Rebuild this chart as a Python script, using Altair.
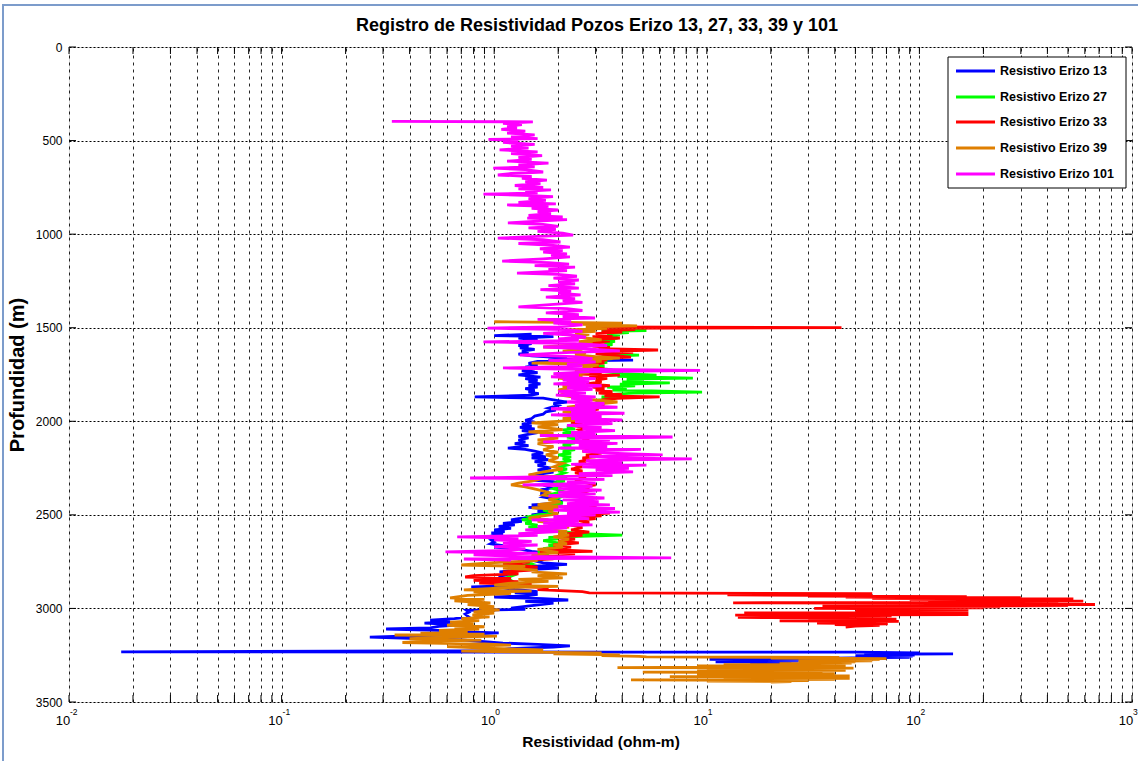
import altair as alt
import pandas as pd

# Resistivity logs: (depth in m, resistivity in ohm-m), top to bottom
erizo13 = [
    (1535, 1.5), (1542, 1.0), (1548, 1.9), (1555, 1.3), (1565, 1.6), (1575, 1.35), (1585, 1.5),
    (1595, 1.3), (1603, 1.45), (1608, 1.32), (1616, 1.55), (1625, 1.35), (1633, 1.45), (1641, 1.3),
    (1650, 1.5), (1662, 2.2), (1668, 1.8), (1673, 4.5), (1680, 1.6), (1690, 1.45), (1700, 1.6),
    (1710, 1.4), (1720, 1.55), (1730, 1.35), (1740, 1.6), (1752, 1.3), (1764, 1.65), (1772, 1.4),
    (1782, 1.6), (1790, 1.45), (1800, 1.65), (1810, 1.45), (1817, 1.6), (1826, 1.4), (1835, 1.55),
    (1844, 1.45), (1852, 1.62), (1860, 1.5), (1870, 0.81), (1876, 1.7), (1885, 1.9), (1897, 2.2),
    (1905, 1.9), (1915, 2.0), (1930, 1.8), (1940, 1.95), (1950, 1.75), (1962, 1.7), (1972, 1.55),
    (1985, 1.5), (1995, 1.4), (2005, 1.55), (2015, 1.35), (2025, 1.5), (2032, 1.32), (2040, 1.55),
    (2050, 1.35), (2060, 1.6), (2073, 1.4), (2080, 1.3), (2089, 1.45), (2100, 1.3), (2110, 1.4),
    (2120, 1.25), (2130, 1.45), (2143, 1.16), (2150, 1.4), (2160, 1.55), (2170, 1.7), (2180, 1.5),
    (2190, 1.75), (2196, 1.5), (2205, 1.8), (2215, 1.55), (2225, 1.75), (2235, 1.6), (2250, 1.85),
    (2260, 1.6), (2271, 1.9), (2280, 1.7), (2290, 1.55), (2300, 1.8), (2314, 1.5), (2322, 1.9),
    (2330, 2.0), (2340, 1.7), (2356, 1.85), (2366, 1.65), (2376, 1.8), (2386, 1.65), (2394, 1.8),
    (2405, 1.7), (2415, 1.9), (2431, 2.1), (2440, 1.85), (2447, 1.5), (2452, 2.1), (2460, 1.45),
    (2470, 1.9), (2480, 1.6), (2490, 1.8), (2500, 1.5), (2510, 1.65), (2520, 1.3), (2527, 1.2),
    (2535, 1.35), (2545, 1.1), (2554, 1.25), (2562, 1.05), (2572, 1.2), (2581, 1.0), (2590, 1.12),
    (2597, 0.97), (2605, 1.1), (2615, 0.95), (2625, 1.05), (2635, 0.97), (2645, 1.0), (2655, 0.96),
    (2665, 1.1), (2672, 1.0), (2682, 1.3), (2695, 1.5), (2705, 1.8), (2715, 1.6), (2730, 1.9),
    (2742, 1.5), (2757, 1.7), (2765, 2.2), (2775, 1.5), (2784, 2.0), (2795, 1.3), (2805, 1.06),
    (2815, 1.2), (2825, 1.05), (2837, 1.15), (2845, 1.02), (2855, 1.1), (2865, 1.0), (2877, 1.3),
    (2885, 0.78), (2890, 1.1), (2898, 1.25), (2910, 1.6), (2917, 1.25), (2925, 1.6), (2932, 1.45),
    (2939, 1.0), (2948, 1.7), (2955, 2.23), (2962, 1.4), (2972, 1.9), (2985, 1.5), (2998, 1.2),
    (3005, 1.4), (3010, 0.74), (3020, 0.76), (3030, 0.73), (3046, 0.76), (3055, 0.65), (3062, 0.5),
    (3070, 0.62), (3078, 0.47), (3088, 0.69), (3096, 0.55), (3104, 0.5), (3110, 0.31), (3118, 0.6),
    (3126, 0.72), (3131, 1.05), (3140, 0.7), (3147, 0.4), (3153, 0.26), (3160, 0.4), (3168, 0.7),
    (3178, 0.9), (3185, 1.1), (3192, 1.6), (3200, 2.27), (3206, 1.9), (3215, 1.2), (3225, 1.0),
    (3232, 0.0176), (3233, 3.4), (3234, 50), (3237, 100), (3240, 60), (3243, 144), (3246, 55),
    (3249, 95), (3252, 50), (3255, 93), (3258, 52), (3261, 90), (3264, 48), (3268, 28),
    (3272, 10.3), (3276, 28), (3279, 12), (3282, 27), (3285, 11), (3288, 25), (3291, 16),
]

erizo27 = [
    (1510, 3.5), (1515, 5.2), (1520, 3.2), (1526, 4.3), (1533, 3.4), (1540, 3.9), (1548, 3.2),
    (1556, 3.8), (1565, 3.1), (1573, 3.7), (1582, 3.3), (1590, 3.6), (1600, 3.1), (1610, 3.5),
    (1620, 3.2), (1630, 3.6), (1640, 3.3), (1646, 4.8), (1655, 3.2), (1665, 3.6), (1675, 3.0),
    (1685, 3.4), (1695, 2.9), (1705, 3.3), (1715, 3.0), (1725, 3.6), (1735, 3.3), (1745, 4.0),
    (1753, 5.8), (1760, 3.8), (1769, 8.6), (1775, 4.2), (1782, 5.0), (1790, 4.0), (1795, 6.7),
    (1802, 3.9), (1810, 4.6), (1817, 3.4), (1825, 4.2), (1833, 3.6), (1838, 5.5), (1844, 9.5),
    (1850, 4.5), (1858, 3.4), (1865, 4.0), (1870, 3.2), (1878, 3.6), (1888, 3.0), (1898, 3.3),
    (1908, 2.8), (1918, 3.1), (1928, 2.7), (1938, 2.9), (1948, 2.6), (1958, 2.8), (1968, 2.5),
    (1982, 2.7), (1990, 2.4), (2000, 2.6), (2010, 2.3), (2020, 2.5), (2030, 2.2), (2040, 2.4),
    (2046, 2.1), (2055, 2.3), (2065, 2.1), (2075, 2.4), (2085, 2.2), (2095, 2.5), (2105, 2.2),
    (2115, 2.4), (2125, 2.1), (2135, 2.3), (2143, 2.05), (2152, 2.4), (2162, 2.1), (2172, 2.3),
    (2180, 2.0), (2190, 2.3), (2200, 2.1), (2210, 2.3), (2220, 2.05), (2234, 2.2), (2245, 2.0),
    (2255, 2.2), (2265, 2.0), (2275, 2.15), (2287, 2.0), (2297, 2.2), (2310, 1.95), (2320, 2.15),
    (2330, 1.9), (2345, 2.1), (2360, 1.9), (2375, 2.1), (2390, 1.85), (2405, 2.05), (2420, 1.9),
    (2436, 2.1), (2450, 1.8), (2462, 2.0), (2475, 1.7), (2490, 1.9), (2500, 1.6), (2510, 1.45),
    (2517, 1.5), (2525, 1.35), (2535, 1.5), (2545, 1.4), (2555, 1.6), (2565, 1.45), (2575, 1.7),
    (2585, 1.9), (2595, 2.3), (2600, 2.5), (2608, 4.0), (2614, 2.8), (2620, 1.8), (2628, 2.0),
    (2638, 1.7), (2650, 2.0), (2660, 1.8), (2670, 2.0), (2680, 1.7), (2690, 1.9), (2700, 1.6),
    (2712, 1.8), (2725, 1.5), (2738, 1.7), (2750, 1.4), (2762, 1.5), (2775, 1.3), (2790, 1.4),
    (2805, 1.2), (2820, 1.25), (2835, 1.15), (2850, 1.2), (2865, 1.1), (2875, 1.08),
]

erizo33 = [
    (1495, 2.7), (1500, 43), (1504, 2.9), (1510, 4.6), (1516, 3.2), (1524, 4.0), (1532, 3.0),
    (1540, 3.6), (1548, 2.9), (1555, 3.9), (1563, 3.1), (1572, 3.5), (1580, 2.8), (1590, 3.3),
    (1598, 2.9), (1605, 3.5), (1612, 3.1), (1619, 5.9), (1625, 3.6), (1632, 4.5), (1640, 3.0),
    (1648, 3.6), (1657, 4.4), (1665, 2.8), (1672, 3.4), (1680, 2.9), (1689, 3.3), (1696, 2.6),
    (1705, 3.1), (1712, 2.9), (1720, 3.3), (1730, 2.8), (1740, 3.2), (1748, 2.5), (1753, 3.9),
    (1760, 2.8), (1770, 3.4), (1780, 3.0), (1790, 3.2), (1800, 2.7), (1810, 3.5), (1818, 2.9),
    (1825, 3.3), (1833, 3.0), (1842, 3.6), (1850, 3.1), (1858, 4.0), (1865, 3.3), (1870, 6.0),
    (1878, 3.8), (1886, 3.2), (1897, 3.6), (1905, 2.9), (1915, 3.3), (1925, 2.8), (1935, 3.1),
    (1945, 2.7), (1955, 3.0), (1965, 2.5), (1975, 2.8), (1985, 2.4), (1995, 2.7), (2005, 2.3),
    (2015, 2.6), (2025, 2.4), (2035, 2.7), (2045, 2.5), (2055, 2.6), (2063, 2.4), (2073, 2.9),
    (2082, 2.5), (2092, 2.8), (2100, 2.6), (2110, 2.9), (2120, 2.6), (2130, 3.0), (2140, 2.6),
    (2153, 2.9), (2160, 2.6), (2170, 3.2), (2180, 2.7), (2190, 3.0), (2196, 2.6), (2205, 2.8),
    (2215, 2.5), (2225, 2.7), (2234, 2.4), (2244, 2.6), (2255, 2.3), (2265, 2.6), (2276, 2.4),
    (2287, 2.8), (2295, 2.5), (2305, 2.7), (2315, 2.4), (2325, 2.6), (2340, 3.0), (2350, 2.6),
    (2360, 2.8), (2372, 2.5), (2385, 2.7), (2398, 2.4), (2410, 2.8), (2422, 2.5), (2435, 2.9),
    (2447, 2.6), (2460, 3.0), (2475, 2.7), (2490, 3.5), (2498, 2.6), (2505, 3.2), (2512, 2.3),
    (2520, 3.0), (2530, 2.5), (2542, 2.8), (2555, 2.3), (2568, 2.6), (2581, 2.3), (2592, 2.8),
    (2600, 2.2), (2610, 2.6), (2618, 2.0), (2630, 2.4), (2640, 2.0), (2650, 2.5), (2661, 1.9),
    (2672, 2.3), (2685, 1.8), (2695, 2.9), (2700, 1.64), (2708, 2.4), (2714, 2.0), (2725, 1.6),
    (2735, 1.9), (2745, 1.3), (2752, 1.47), (2760, 1.1), (2770, 1.35), (2779, 1.6), (2785, 1.2),
    (2795, 1.5), (2805, 1.1), (2815, 1.3), (2825, 0.8), (2832, 0.73), (2840, 1.2), (2850, 0.8),
    (2857, 1.3), (2864, 0.85), (2872, 1.5), (2880, 1.2), (2890, 1.8), (2900, 1.6), (2910, 2.6),
    (2917, 2.8), (2921, 60), (2925, 35), (2928, 12.5), (2931, 55), (2934, 30), (2937, 167),
    (2940, 45), (2943, 300), (2946, 60), (2949, 530), (2952, 90), (2955, 400), (2958, 150),
    (2961, 590), (2964, 110), (2967, 450), (2970, 13.3), (2973, 120), (2976, 260), (2979, 670),
    (2982, 90), (2985, 500), (2988, 35), (2991, 240), (2994, 70), (2997, 200), (3000, 32),
    (3003, 160), (3006, 60), (3009, 170), (3012, 50), (3015, 160), (3018, 57), (3021, 170),
    (3024, 15), (3027, 120), (3030, 40), (3033, 170), (3036, 13.6), (3039, 74), (3042, 25),
    (3045, 70), (3048, 14), (3051, 60), (3054, 30), (3057, 78), (3060, 40), (3063, 74),
    (3066, 22), (3069, 80), (3072, 45), (3075, 70), (3078, 33), (3082, 71), (3086, 40),
    (3090, 65), (3094, 50), (3100, 45),
]

erizo39 = [
    (1468, 1.0), (1472, 2.1), (1476, 4.0), (1482, 2.6), (1490, 4.7), (1496, 2.7), (1504, 3.4),
    (1512, 2.2), (1520, 3.0), (1528, 2.4), (1535, 2.8), (1545, 2.3), (1555, 2.7), (1565, 3.2),
    (1575, 2.5), (1585, 2.9), (1595, 2.2), (1603, 1.7), (1608, 2.3), (1616, 2.6), (1625, 2.1),
    (1635, 2.7), (1645, 2.4), (1655, 3.0), (1662, 3.9), (1670, 2.6), (1680, 3.2), (1689, 1.5),
    (1695, 2.5), (1700, 3.1), (1710, 2.6), (1720, 2.9), (1730, 2.4), (1740, 2.8), (1750, 2.3),
    (1760, 2.6), (1769, 2.0), (1778, 2.4), (1788, 2.2), (1800, 2.5), (1812, 2.1), (1822, 2.3),
    (1832, 2.0), (1845, 2.2), (1860, 2.05), (1872, 2.4), (1885, 2.9), (1897, 3.8), (1905, 3.2),
    (1915, 2.6), (1925, 2.2), (1940, 2.7), (1950, 2.1), (1960, 2.5), (1977, 2.7), (1985, 2.1),
    (1995, 2.4), (2009, 1.5), (2018, 2.0), (2030, 1.6), (2045, 2.1), (2057, 1.45), (2065, 1.9),
    (2075, 1.7), (2090, 2.0), (2100, 1.6), (2110, 1.9), (2120, 1.6), (2135, 1.9), (2153, 1.7),
    (2165, 2.0), (2180, 1.75), (2195, 2.0), (2210, 1.8), (2225, 2.1), (2244, 1.9), (2255, 2.1),
    (2270, 1.7), (2287, 1.45), (2295, 2.0), (2305, 1.7), (2320, 1.5), (2330, 1.3), (2340, 1.2),
    (2350, 1.4), (2365, 1.6), (2380, 1.8), (2394, 1.7), (2405, 2.0), (2420, 1.8), (2431, 2.05),
    (2445, 1.6), (2455, 2.1), (2463, 1.5), (2470, 2.0), (2480, 1.8), (2495, 2.0), (2505, 1.7),
    (2517, 1.45), (2525, 1.8), (2535, 1.6), (2545, 2.0), (2555, 1.8), (2565, 2.25), (2575, 1.9),
    (2590, 2.2), (2600, 2.0), (2608, 2.25), (2618, 1.9), (2630, 2.25), (2645, 2.0), (2655, 2.2),
    (2661, 1.9), (2672, 2.1), (2685, 1.6), (2700, 2.0), (2714, 1.5), (2725, 1.8), (2735, 1.4),
    (2745, 1.6), (2755, 1.0), (2768, 0.7), (2775, 1.4), (2785, 1.1), (2795, 1.6), (2805, 1.5),
    (2815, 2.2), (2825, 1.6), (2837, 2.1), (2845, 1.3), (2855, 1.8), (2865, 1.2), (2875, 1.0),
    (2882, 2.0), (2890, 1.1), (2901, 0.72), (2908, 1.5), (2912, 0.8), (2920, 1.2), (2930, 0.75),
    (2944, 0.62), (2952, 0.9), (2960, 0.65), (2971, 0.96), (2980, 0.75), (2990, 1.0), (3000, 0.85),
    (3008, 1.06), (3018, 0.8), (3025, 1.0), (3035, 0.79), (3045, 0.95), (3055, 0.7), (3065, 0.85),
    (3073, 0.62), (3082, 0.8), (3090, 0.6), (3098, 0.9), (3104, 0.65), (3110, 0.85), (3118, 0.55),
    (3125, 0.75), (3132, 0.45), (3138, 0.9), (3142, 0.34), (3148, 1.03), (3155, 0.6), (3162, 0.4),
    (3169, 0.87), (3176, 0.5), (3182, 0.37), (3190, 0.9), (3196, 1.2), (3204, 0.6), (3212, 0.9),
    (3222, 1.7), (3228, 0.7), (3234, 1.4), (3238, 3.2), (3243, 1.9), (3248, 3.9), (3252, 3.2),
    (3256, 4.8), (3259, 5.2), (3262, 42), (3265, 20), (3268, 70), (3271, 27), (3274, 65),
    (3277, 30), (3280, 60), (3283, 27), (3286, 50), (3289, 30), (3292, 48), (3295, 22),
    (3298, 45), (3301, 12), (3304, 45), (3307, 9), (3310, 40), (3313, 18), (3316, 3.8),
    (3319, 49), (3322, 10), (3325, 40), (3328, 14), (3331, 45), (3334, 9), (3337, 35),
    (3340, 5.0), (3343, 27), (3346, 12), (3349, 40), (3352, 9), (3355, 31), (3358, 15),
    (3361, 47), (3364, 6.7), (3367, 45), (3370, 12), (3373, 47), (3376, 15), (3379, 40),
    (3382, 4.4), (3385, 30), (3388, 10), (3391, 25), (3393, 20),
]

erizo101 = [
    (397, 0.33), (400, 1.52), (408, 1.1), (415, 1.35), (424, 1.15), (432, 1.28), (440, 1.08),
    (450, 1.4), (460, 1.15), (470, 1.55), (480, 1.2), (490, 1.6), (494, 0.94), (500, 1.3),
    (510, 1.1), (520, 1.55), (530, 1.2), (540, 1.45), (550, 1.06), (560, 1.6), (570, 1.2),
    (580, 1.68), (590, 1.3), (600, 1.5), (610, 1.15), (620, 1.8), (630, 1.3), (640, 1.55),
    (647, 0.99), (655, 1.4), (668, 1.7), (676, 1.2), (684, 1.04), (692, 1.5), (702, 1.35),
    (711, 1.77), (720, 1.4), (730, 1.65), (740, 1.25), (750, 1.7), (758, 1.3), (764, 1.85),
    (772, 1.4), (780, 1.6), (786, 0.89), (794, 1.5), (800, 1.89), (810, 1.45), (820, 1.75),
    (830, 1.3), (838, 1.95), (844, 1.15), (852, 1.8), (862, 1.5), (871, 2.0), (880, 1.6),
    (890, 1.85), (900, 1.45), (908, 2.1), (914, 1.43), (922, 2.2), (930, 1.6), (940, 1.16),
    (948, 1.7), (958, 2.0), (967, 1.45), (975, 1.95), (985, 1.6), (995, 2.1), (1005, 2.35),
    (1012, 1.6), (1021, 1.04), (1030, 1.7), (1042, 2.05), (1050, 1.3), (1060, 1.9), (1069, 2.27),
    (1078, 1.64), (1088, 2.1), (1096, 1.7), (1105, 2.2), (1114, 1.85), (1122, 2.27), (1132, 1.7),
    (1144, 1.09), (1152, 1.8), (1160, 2.25), (1168, 1.55), (1176, 2.4), (1185, 1.8), (1195, 2.2),
    (1208, 1.28), (1215, 2.0), (1225, 2.45), (1235, 1.9), (1245, 2.5), (1255, 2.0), (1265, 2.4),
    (1275, 1.8), (1288, 2.5), (1296, 1.65), (1305, 2.3), (1315, 2.0), (1325, 2.55), (1336, 1.75),
    (1345, 2.4), (1355, 2.1), (1365, 2.6), (1375, 1.9), (1389, 1.3), (1398, 2.2), (1408, 2.6),
    (1421, 1.75), (1430, 2.5), (1440, 2.1), (1448, 2.98), (1455, 1.6), (1465, 2.3), (1475, 1.9),
    (1485, 2.6), (1495, 2.0), (1502, 0.93), (1510, 2.2), (1520, 2.6), (1530, 1.7), (1539, 2.3),
    (1550, 2.7), (1560, 2.0), (1568, 2.5), (1576, 0.89), (1585, 2.4), (1595, 3.4), (1603, 1.7),
    (1612, 2.6), (1624, 3.9), (1632, 2.3), (1646, 1.32), (1655, 2.4), (1665, 2.9), (1675, 1.8),
    (1683, 3.0), (1695, 2.2), (1705, 2.6), (1715, 1.1), (1722, 2.4), (1728, 9.3), (1736, 2.7),
    (1745, 1.9), (1753, 2.5), (1762, 1.85), (1772, 3.0), (1780, 2.1), (1790, 2.8), (1800, 1.9),
    (1810, 3.2), (1820, 2.2), (1830, 2.9), (1840, 2.0), (1850, 2.7), (1860, 1.95), (1870, 3.0),
    (1878, 2.3), (1887, 2.9), (1897, 2.2), (1905, 3.3), (1915, 2.4), (1925, 3.8), (1933, 1.85),
    (1942, 3.0), (1950, 2.3), (1957, 4.1), (1966, 1.85), (1975, 3.2), (1985, 2.3), (1993, 4.0),
    (2002, 2.4), (2012, 3.6), (2022, 2.2), (2032, 3.2), (2040, 2.6), (2050, 3.7), (2060, 2.3),
    (2068, 3.0), (2076, 1.64), (2084, 6.9), (2092, 2.4), (2100, 3.5), (2110, 1.7), (2118, 3.8),
    (2127, 2.5), (2135, 3.4), (2143, 2.0), (2150, 4.9), (2160, 2.6), (2170, 3.5), (2180, 6.2),
    (2188, 2.8), (2196, 3.6), (2201, 8.5), (2210, 2.7), (2220, 4.0), (2230, 2.3), (2234, 5.2),
    (2244, 2.6), (2252, 4.3), (2260, 3.0), (2270, 4.5), (2280, 2.5), (2290, 3.6), (2303, 0.77),
    (2310, 3.3), (2320, 2.2), (2330, 3.0), (2340, 1.36), (2348, 2.9), (2358, 2.0), (2368, 3.2),
    (2378, 2.0), (2388, 3.0), (2398, 1.8), (2410, 3.3), (2420, 2.1), (2430, 3.1), (2440, 2.2),
    (2447, 3.5), (2456, 2.0), (2466, 3.7), (2474, 1.9), (2485, 3.9), (2492, 2.2), (2500, 3.0),
    (2510, 1.9), (2520, 2.8), (2527, 1.5), (2535, 2.5), (2545, 1.7), (2554, 2.9), (2562, 1.6),
    (2570, 2.2), (2580, 1.4), (2590, 2.0), (2600, 1.3), (2610, 1.6), (2618, 0.67), (2625, 1.3),
    (2634, 1.0), (2642, 1.5), (2652, 1.1), (2661, 1.6), (2670, 1.0), (2680, 1.4), (2690, 1.2),
    (2698, 0.59), (2705, 1.6), (2714, 0.8), (2722, 1.3), (2730, 6.8), (2736, 0.72), (2742, 1.2),
]

series_names = ["Resistivo Erizo 13", "Resistivo Erizo 27", "Resistivo Erizo 33",
                "Resistivo Erizo 39", "Resistivo Erizo 101"]
series_colors = ["#0000FF", "#00FF00", "#FF0000", "#DF7F00", "#FF00FF"]
series_logs = [erizo13, erizo27, erizo33, erizo39, erizo101]

decades = [0.01, 0.1, 1, 10, 100, 1000]
decade_exponents = ["-2", "-1", "0", "1", "2", "3"]
log_multipliers = [1, 2, 3, 4, 5, 6, 7, 8, 9]
depth_ticks = [0, 500, 1000, 1500, 2000, 2500, 3000, 3500]

x_grid = [d * m for d in decades[:-1] for m in log_multipliers] + [decades[-1]]

W, H = 1063, 655
FONT = "Liberation Sans, Arial, sans-serif"
BLACK = "#000000"

x_scale = alt.Scale(type="log", domain=[0.01, 1000], nice=False)
y_scale = alt.Scale(domain=[0, 3500], reverse=True, nice=False)

x_axis = alt.Axis(values=x_grid, grid=True, gridDash=[3, 4], gridColor=BLACK,
                  gridOpacity=0.85, gridWidth=1, labels=False, ticks=False, domain=False,
                  title="Resistividad (ohm-m)", titleFont=FONT, titleFontSize=15.5,
                  titleFontWeight="bold", titleColor=BLACK, titlePadding=32)
y_axis = alt.Axis(values=depth_ticks, format="d", grid=True, gridDash=[2, 2], gridColor=BLACK,
                  gridOpacity=1, gridWidth=1, ticks=False, domain=False, labelFont=FONT,
                  labelFontSize=12, labelColor=BLACK, labelPadding=7,
                  title="Profundidad (m)", titleFont=FONT, titleFontSize=20,
                  titleFontWeight="bold", titleColor=BLACK, titlePadding=8)


def X(field):
    return alt.X(field, type="quantitative", scale=x_scale, axis=x_axis)


def Y(field):
    return alt.Y(field, type="quantitative", scale=y_scale, axis=y_axis)


color = alt.Color("pozo:N", scale=alt.Scale(domain=series_names, range=series_colors),
                  legend=None)

layers = []
for name, log in zip(series_names, series_logs):
    df = pd.DataFrame(log, columns=["depth", "res"])
    df["pozo"] = name
    df["i"] = range(len(df))
    layers.append(
        alt.Chart(df).mark_line(strokeWidth=2.8, clip=True).encode(
            x=X("res"), y=Y("depth"), color=color, order=alt.Order("i:Q")
        )
    )

# inward tick marks on all four sides of the box
xt = pd.DataFrame({"res": x_grid})
yt = pd.DataFrame({"depth": depth_ticks})
ticks_top = alt.Chart(xt).mark_rule(color=BLACK, strokeWidth=1).encode(
    x=X("res"), y=alt.value(0), y2=alt.value(7))
ticks_bottom = alt.Chart(xt).mark_rule(color=BLACK, strokeWidth=1).encode(
    x=X("res"), y=alt.value(H - 7), y2=alt.value(H))
ticks_left = alt.Chart(yt).mark_rule(color=BLACK, strokeWidth=1).encode(
    y=Y("depth"), x=alt.value(0), x2=alt.value(7))
ticks_right = alt.Chart(yt).mark_rule(color=BLACK, strokeWidth=1).encode(
    y=Y("depth"), x=alt.value(W - 7), x2=alt.value(W))

# decade labels written as 10 with a raised exponent
dl = pd.DataFrame({"res": decades, "exp": decade_exponents, "base": ["10"] * len(decades)})
lab_base = alt.Chart(dl).mark_text(font=FONT, fontSize=13, color=BLACK, align="center",
                                   baseline="middle", dx=-6).encode(
    x=X("res"), y=alt.value(H + 19), text="base:N")
lab_exp = alt.Chart(dl).mark_text(font=FONT, fontSize=8.5, color=BLACK, align="left",
                                  baseline="middle", dx=1).encode(
    x=X("res"), y=alt.value(H + 10), text="exp:N")

# legend box in the upper right corner of the plot
one = pd.DataFrame({"k": [0]})
LX0, LX1, LY0, LY1 = 879, 1057, 10, 141
legend_box = alt.Chart(one).mark_rect(fill="white", stroke=BLACK, strokeWidth=1).encode(
    x=alt.value(LX0), x2=alt.value(LX1), y=alt.value(LY0), y2=alt.value(LY1))
legend_rows = [24, 50, 75, 101, 127]
legend_layers = []
for name, col, ry in zip(series_names, series_colors, legend_rows):
    legend_layers.append(alt.Chart(one).mark_rule(color=col, strokeWidth=2.8).encode(
        x=alt.value(887), x2=alt.value(926), y=alt.value(ry)))
    legend_layers.append(alt.Chart(one).mark_text(
        text=name, font=FONT, fontSize=12.5, fontWeight="bold", color=BLACK,
        align="left", baseline="middle").encode(x=alt.value(931), y=alt.value(ry)))

title = alt.Chart(one).mark_text(
    text="Registro de Resistividad Pozos Erizo 13, 27, 33, 39 y 101", font=FONT,
    fontSize=18, fontWeight="bold", color=BLACK, align="center", baseline="middle",
).encode(x=alt.value(528), y=alt.value(-21))

# window frame edges
frame_left = alt.Chart(one).mark_rule(color="#7C9CCB", strokeWidth=2).encode(
    x=alt.value(-66), y=alt.value(-43), y2=alt.value(H + 59))
frame_top = alt.Chart(one).mark_rule(color="#7C9CCB", strokeWidth=2).encode(
    y=alt.value(-42), x=alt.value(-66), x2=alt.value(W + 6))

chart = alt.layer(
    ticks_top, ticks_bottom, ticks_left, ticks_right, *layers, lab_base, lab_exp,
    legend_box, *legend_layers, title, frame_left, frame_top,
).properties(
    width=W, height=H,
    padding={"left": 69, "top": 47, "right": 6, "bottom": 59},
    autosize=alt.AutoSizeParams(type="none"),
).configure_view(stroke=BLACK, strokeWidth=1.2).configure(background="white")

chart.save("out.html", embed_options={"renderer": "svg", "actions": False})
